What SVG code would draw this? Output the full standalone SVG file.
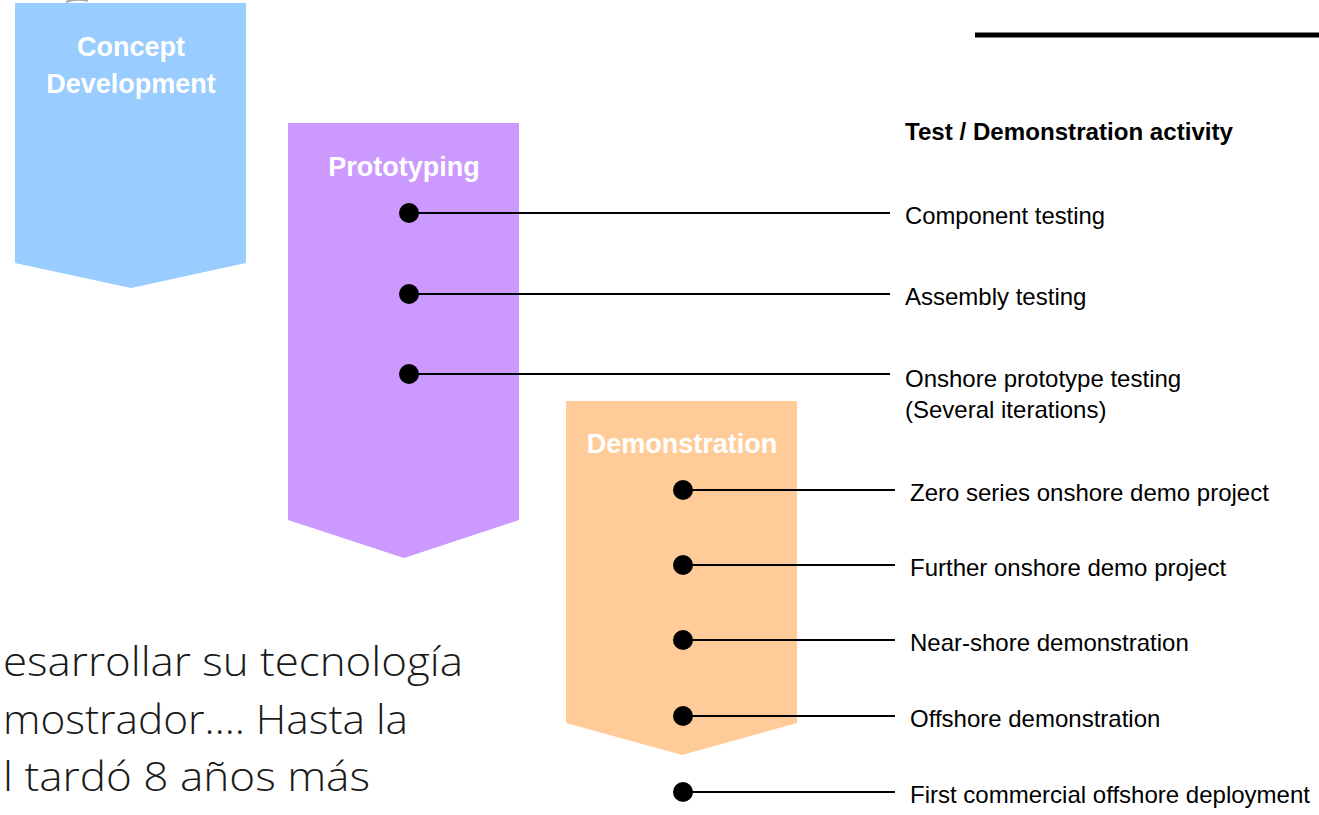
<svg xmlns="http://www.w3.org/2000/svg" width="1319" height="815" viewBox="0 0 1319 815">
<style>
.phase{font-family:"Liberation Sans",Arial,sans-serif;font-weight:bold;font-size:27px;fill:#fff;text-anchor:middle}
.lbl{font-family:"Liberation Sans",Arial,sans-serif;font-size:24px;fill:#000}
.hdr{font-family:"Liberation Sans",Arial,sans-serif;font-size:24px;font-weight:bold;fill:#000}
.es{font-family:"Open Sans","Noto Sans",sans-serif;font-weight:300;font-size:40px;fill:#1a1a1a}
.conn line{stroke:#000;stroke-width:2}
.conn circle{fill:#000}
</style>
<rect width="1319" height="815" fill="#fff"/>
<path d="M66 2 Q76 -2 88 1" fill="none" stroke="#aaa" stroke-width="2"/>
<g id="concept">
<polygon points="15,3 246,3 246,263 131,288 15,263" fill="#99CCFF"/>
<text class="phase" x="131" y="56">Concept</text>
<text class="phase" x="131" y="93">Development</text>
</g>
<g id="prototyping">
<polygon points="288,123 519,123 519,520 404,558 288,520" fill="#CC99FF"/>
<text class="phase" x="404" y="176">Prototyping</text>
</g>
<g id="demonstration">
<polygon points="566,401 797,401 797,723 682,755 566,723" fill="#FFCC99"/>
<text class="phase" x="682" y="453">Demonstration</text>
</g>
<line x1="975" y1="35" x2="1319" y2="35" stroke="#000" stroke-width="5"/>
<g id="labels">
<text class="hdr" x="905" y="140" textLength="328" lengthAdjust="spacingAndGlyphs">Test / Demonstration activity</text>
<text class="lbl" x="905" y="224" textLength="200" lengthAdjust="spacingAndGlyphs">Component testing</text>
<text class="lbl" x="905" y="305">Assembly testing</text>
<text class="lbl" x="905" y="387">Onshore prototype testing</text>
<text class="lbl" x="905" y="418">(Several iterations)</text>
<text class="lbl" x="910" y="501">Zero series onshore demo project</text>
<text class="lbl" x="910" y="576">Further onshore demo project</text>
<text class="lbl" x="910" y="651">Near-shore demonstration</text>
<text class="lbl" x="910" y="727">Offshore demonstration</text>
<text class="lbl" x="910" y="803" textLength="400" lengthAdjust="spacingAndGlyphs">First commercial offshore deployment</text>
</g>
<g id="connectors" class="conn">
<line x1="409" y1="213" x2="890" y2="213"/><circle cx="409" cy="213" r="10"/>
<line x1="409" y1="294" x2="890" y2="294"/><circle cx="409" cy="294" r="10"/>
<line x1="409" y1="374" x2="890" y2="374"/><circle cx="409" cy="374" r="10"/>
<line x1="683" y1="490" x2="895" y2="490"/><circle cx="683" cy="490" r="10"/>
<line x1="683" y1="565" x2="895" y2="565"/><circle cx="683" cy="565" r="10"/>
<line x1="683" y1="640" x2="895" y2="640"/><circle cx="683" cy="640" r="10"/>
<line x1="683" y1="716" x2="895" y2="716"/><circle cx="683" cy="716" r="10"/>
<line x1="683" y1="792" x2="895" y2="792"/><circle cx="683" cy="792" r="10"/>
</g>
<g id="spanish">
<text class="es" x="3" y="676" textLength="460" lengthAdjust="spacingAndGlyphs">esarrollar su tecnología</text>
<text class="es" x="3" y="734" textLength="405" lengthAdjust="spacingAndGlyphs">mostrador…. Hasta la</text>
<text class="es" x="3" y="791" textLength="367" lengthAdjust="spacingAndGlyphs">l tardó 8 años más</text>
</g>
</svg>
